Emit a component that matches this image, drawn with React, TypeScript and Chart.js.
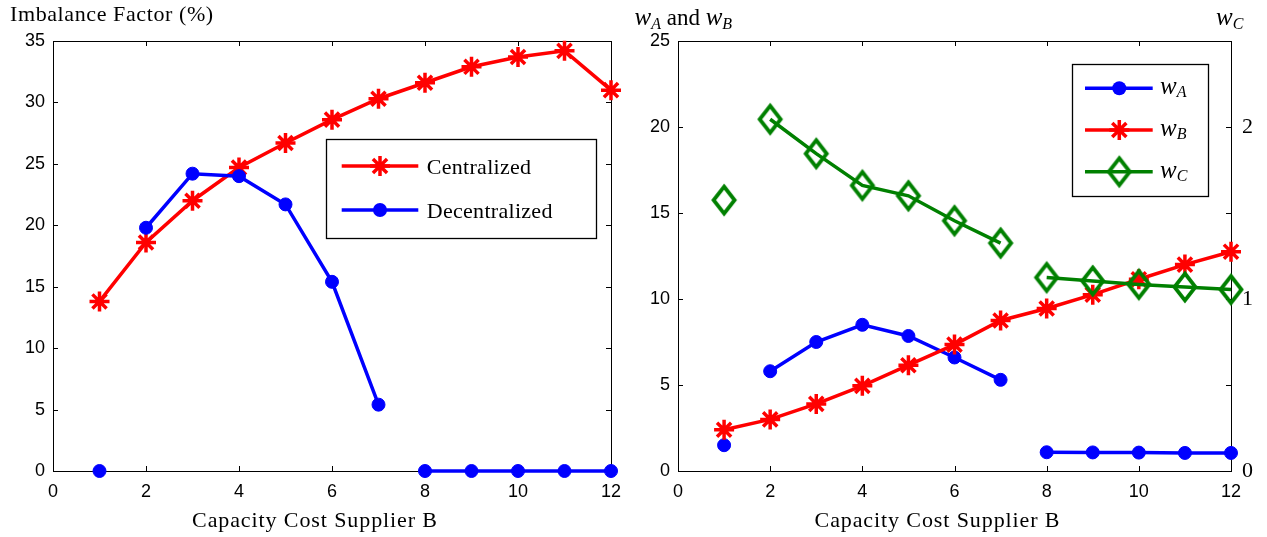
import React, { useEffect, useRef } from 'react';
import { Chart, registerables } from 'chart.js';

Chart.register(...registerables);

// ---------- data ----------
const costs = [1, 2, 3, 4, 5, 6, 7, 8, 9, 10, 11, 12];
const centralized = [13.8, 18.6, 22.0, 24.7, 26.7, 28.6, 30.3, 31.6, 32.9, 33.7, 34.2, 31.0];
const decentralized = [0, 19.8, 24.2, 24.0, 21.7, 15.4, 5.4, 0, 0, 0, 0, 0];
const wA = [1.5, 5.8, 7.5, 8.5, 7.85, 6.6, 5.3, 1.09, 1.08, 1.07, 1.05, 1.05];
const wB = [2.4, 3.0, 3.9, 4.95, 6.15, 7.35, 8.75, 9.45, 10.25, 11.15, 12.0, 12.75];
const wC = [1.575, 2.045, 1.845, 1.66, 1.6, 1.455, 1.325, 1.125, 1.105, 1.085, 1.07, 1.055];
// segments (by start index) that are not drawn in the broken series
const brokenAfter = [0, 6];

const xMin = 0, xMax = 12, xStep = 2;
const leftYMax = 35, leftYStep = 5;
const rightYMax = 25, rightYStep = 5;
const rightY2Max = 2.5, rightY2Step = 0.5;

const xTitle = 'Capacity Cost Supplier B';
const leftYTitle = 'Imbalance Factor (%)';

const RED = '#ff0000';
const BLUE = '#0000ff';
const GREEN = '#008000';
const SERIF = '"Liberation Serif", "Times New Roman", serif';
const SANS = '"Liberation Sans", Arial, Helvetica, sans-serif';

type Part = { text: string; size: number; italic?: boolean; dy?: number };

function makeDiamond(): HTMLCanvasElement {
  const c = document.createElement('canvas');
  c.width = 32;
  c.height = 38;
  const g = c.getContext('2d')!;
  g.strokeStyle = GREEN;
  g.lineWidth = 3.8;
  g.lineJoin = 'miter';
  g.beginPath();
  g.moveTo(16, 5.5);
  g.lineTo(26.5, 19);
  g.lineTo(16, 32.5);
  g.lineTo(5.5, 19);
  g.closePath();
  g.stroke();
  return c;
}

function fontOf(p: Part) {
  return `${p.italic ? 'italic ' : ''}${p.size}px ${SERIF}`;
}

function drawRich(ctx: CanvasRenderingContext2D, parts: Part[], x: number, y: number, align: 'left' | 'center' | 'right' = 'left', spacing = '0px') {
  ctx.save();
  (ctx as any).letterSpacing = spacing;
  ctx.textBaseline = 'alphabetic';
  ctx.textAlign = 'left';
  let total = 0;
  for (const p of parts) {
    ctx.font = fontOf(p);
    total += ctx.measureText(p.text).width;
  }
  let cx = align === 'center' ? x - total / 2 : align === 'right' ? x - total : x;
  ctx.fillStyle = '#000';
  for (const p of parts) {
    ctx.font = fontOf(p);
    ctx.fillText(p.text, cx, y + (p.dy || 0));
    cx += ctx.measureText(p.text).width;
  }
  ctx.restore();
}

function drawMarker(ctx: CanvasRenderingContext2D, style: any, x: number, y: number, color: string) {
  ctx.save();
  if (style === 'circle') {
    ctx.fillStyle = color;
    ctx.beginPath();
    ctx.arc(x, y, 7, 0, Math.PI * 2);
    ctx.fill();
  } else if (style === 'star') {
    ctx.strokeStyle = color;
    ctx.lineWidth = 3.5;
    const r = 10;
    ctx.beginPath();
    for (let k = 0; k < 4; k++) {
      const a = (k * Math.PI) / 4;
      ctx.moveTo(x - Math.cos(a) * r, y - Math.sin(a) * r);
      ctx.lineTo(x + Math.cos(a) * r, y + Math.sin(a) * r);
    }
    ctx.stroke();
  } else if (style instanceof HTMLCanvasElement) {
    ctx.drawImage(style, x - style.width / 2, y - style.height / 2);
  }
  ctx.restore();
}

const decorPlugin = {
  id: 'decor',
  beforeDatasetsDraw(chart: any, _args: any, opts: any) {
    const { ctx, chartArea } = chart;
    const { left, right, top, bottom } = chartArea;
    const L = 5;
    ctx.save();
    ctx.strokeStyle = '#000';
    ctx.lineWidth = 1;
    ctx.strokeRect(Math.round(left) + 0.5, Math.round(top) + 0.5, Math.round(right - left), Math.round(bottom - top));
    ctx.beginPath();
    const xs = chart.scales.x;
    for (const t of xs.ticks) {
      const px = Math.round(xs.getPixelForValue(t.value)) + 0.5;
      ctx.moveTo(px, bottom);
      ctx.lineTo(px, bottom - L);
      ctx.moveTo(px, top);
      ctx.lineTo(px, top + L);
    }
    const ys = chart.scales.y;
    for (const t of ys.ticks) {
      const py = Math.round(ys.getPixelForValue(t.value)) + 0.5;
      ctx.moveTo(left, py);
      ctx.lineTo(left + L, py);
      if (opts.mirrorY) {
        ctx.moveTo(right, py);
        ctx.lineTo(right - L, py);
      }
    }
    const y2 = chart.scales.y2;
    if (y2) {
      for (const t of y2.ticks) {
        const py = Math.round(y2.getPixelForValue(t.value)) + 0.5;
        ctx.moveTo(right, py);
        ctx.lineTo(right - L, py);
      }
    }
    ctx.stroke();
    ctx.restore();
  },
  afterDraw(chart: any, _args: any, opts: any) {
    const { ctx, chartArea } = chart;
    const cxMid = (chartArea.left + chartArea.right) / 2;
    // x title
    drawRich(ctx, [{ text: xTitle, size: 22 }], cxMid - 17, chartArea.bottom + 56, 'center', '0.9px');
    // other titles
    for (const t of opts.titles || []) {
      drawRich(ctx, t.parts, t.x, t.y, t.align || 'left', t.spacing || '0px');
    }
    // legend
    const lg = opts.legend;
    if (lg) {
      ctx.save();
      const [x1, y1, x2, y2] = lg.box;
      ctx.fillStyle = '#fff';
      ctx.fillRect(x1, y1, x2 - x1, y2 - y1);
      ctx.strokeStyle = '#000';
      ctx.lineWidth = 1.3;
      ctx.strokeRect(x1, y1, x2 - x1, y2 - y1);
      for (const r of lg.rows) {
        const ds = chart.data.datasets[r.ds];
        ctx.strokeStyle = ds.borderColor;
        ctx.lineWidth = 3.5;
        ctx.beginPath();
        ctx.moveTo(lg.line[0], r.y);
        ctx.lineTo(lg.line[1], r.y);
        ctx.stroke();
        drawMarker(ctx, ds.pointStyle, lg.marker, r.y, ds.borderColor);
        drawRich(ctx, r.label, lg.textX, r.y + r.base, 'left', r.spacing || '0px');
      }
      ctx.restore();
    }
  },
};

function seg(color: string) {
  return {
    borderColor: (c: any) => (brokenAfter.includes(c.p0DataIndex) ? 'rgba(0,0,0,0)' : color),
  };
}

function pts(vals: number[]) {
  return costs.map((x, i) => ({ x, y: vals[i] }));
}

function xScale() {
  return {
    type: 'linear',
    min: xMin,
    max: xMax,
    ticks: { stepSize: xStep, color: '#000', font: { family: SANS, size: 18 }, padding: 10, maxRotation: 0, autoSkip: false },
    grid: { display: false, drawTicks: false, tickLength: 0 },
    border: { display: false },
    afterFit: (s: any) => { s.height = 66; },
  };
}

function yScale(max: number, step: number, width: number) {
  return {
    type: 'linear',
    min: 0,
    max,
    ticks: { stepSize: step, color: '#000', font: { family: SANS, size: 18 }, padding: 8, autoSkip: false },
    grid: { display: false, drawTicks: false, tickLength: 0 },
    border: { display: false },
    afterFit: (s: any) => { s.width = width; },
  };
}

const starDs = (color: string) => ({
  borderColor: color,
  backgroundColor: color,
  borderWidth: 3.5,
  pointStyle: 'star',
  pointRadius: 10,
  pointBorderWidth: 3.5,
  pointBorderColor: color,
  clip: false,
});

const circleDs = (color: string) => ({
  borderColor: color,
  backgroundColor: color,
  borderWidth: 3.5,
  pointStyle: 'circle',
  pointRadius: 6.5,
  pointBorderWidth: 1,
  pointBackgroundColor: color,
  pointBorderColor: color,
  segment: seg(color),
  clip: false,
});

function leftConfig(): any {
  return {
    type: 'line',
    data: {
      datasets: [
        { label: 'Centralized', data: pts(centralized), ...starDs(RED), order: 2 },
        { label: 'Decentralized', data: pts(decentralized), ...circleDs(BLUE), order: 1 },
      ],
    },
    options: {
      responsive: false,
      animation: false,
      devicePixelRatio: 1,
      events: [],
      layout: { padding: { top: 41, right: 22, left: 0, bottom: 0 } },
      scales: { x: xScale(), y: yScale(leftYMax, leftYStep, 53) },
      plugins: {
        legend: { display: false },
        tooltip: { enabled: false },
        decor: {
          mirrorY: true,
          titles: [{ parts: [{ text: leftYTitle, size: 22 }], x: 10, y: 21, spacing: '0.6px' }],
          legend: {
            box: [326.5, 139.5, 596.5, 238.5],
            line: [341.7, 418.3],
            marker: 380,
            textX: 426.7,
            rows: [
              { ds: 0, y: 166, base: 8, spacing: '0.3px', label: [{ text: 'Centralized', size: 22 }] },
              { ds: 1, y: 210, base: 8, spacing: '0.3px', label: [{ text: 'Decentralized', size: 22 }] },
            ],
          },
        },
      },
    },
    plugins: [decorPlugin],
  };
}

function rightConfig(): any {
  const diamond = makeDiamond();
  const y2: any = yScale(rightY2Max, rightY2Step, 36);
  y2.position = 'right';
  y2.ticks = {
    stepSize: rightY2Step,
    color: '#000',
    font: { family: SERIF, size: 22 },
    padding: 11,
    autoSkip: false,
    callback: (v: number) => (Number.isInteger(v) ? String(v) : ''),
  };
  const w = (sub: string, dy = 4, big = 25, small = 16): Part[] => [
    { text: 'w', size: big, italic: true },
    { text: sub, size: small, italic: true, dy },
  ];
  return {
    type: 'line',
    data: {
      datasets: [
        { label: 'wA', data: pts(wA), yAxisID: 'y', ...circleDs(BLUE), order: 3 },
        { label: 'wB', data: pts(wB), yAxisID: 'y', ...starDs(RED), order: 2 },
        {
          label: 'wC',
          data: pts(wC),
          yAxisID: 'y2',
          borderColor: GREEN,
          backgroundColor: GREEN,
          borderWidth: 3.5,
          pointStyle: diamond,
          pointRadius: 12,
          segment: seg(GREEN),
          clip: false,
          order: 1,
        },
      ],
    },
    options: {
      responsive: false,
      animation: false,
      devicePixelRatio: 1,
      events: [],
      layout: { padding: { top: 41, right: 0, left: 0, bottom: 0 } },
      scales: { x: xScale(), y: yScale(rightYMax, rightYStep, 45), y2 },
      plugins: {
        legend: { display: false },
        tooltip: { enabled: false },
        decor: {
          mirrorY: false,
          titles: [
            { parts: [...w('A'), { text: ' and ', size: 23 }, ...w('B')], x: 1.5, y: 25 },
            { parts: w('C'), x: 583, y: 25 },
          ],
          legend: {
            box: [439.5, 64.5, 575.5, 196.5],
            line: [452, 519.7],
            marker: 486.3,
            textX: 527,
            rows: [
              { ds: 0, y: 88.3, base: 6, label: w('A', 3) },
              { ds: 1, y: 130, base: 6, label: w('B', 3) },
              { ds: 2, y: 171.7, base: 6, label: w('C', 3) },
            ],
          },
        },
      },
    },
    plugins: [decorPlugin],
  };
}

export default function App() {
  const leftRef = useRef<HTMLCanvasElement>(null);
  const rightRef = useRef<HTMLCanvasElement>(null);
  useEffect(() => {
    const c1 = new Chart(leftRef.current!, leftConfig());
    const c2 = new Chart(rightRef.current!, rightConfig());
    return () => {
      c1.destroy();
      c2.destroy();
    };
  }, []);
  return (
    <div style={{ position: 'absolute', left: 0, top: 0, width: 1267, height: 537, background: '#fff' }}>
      <canvas ref={leftRef} width={633} height={537} style={{ position: 'absolute', left: 0, top: 0, width: 633, height: 537 }} />
      <canvas ref={rightRef} width={634} height={537} style={{ position: 'absolute', left: 633, top: 0, width: 634, height: 537 }} />
    </div>
  );
}
